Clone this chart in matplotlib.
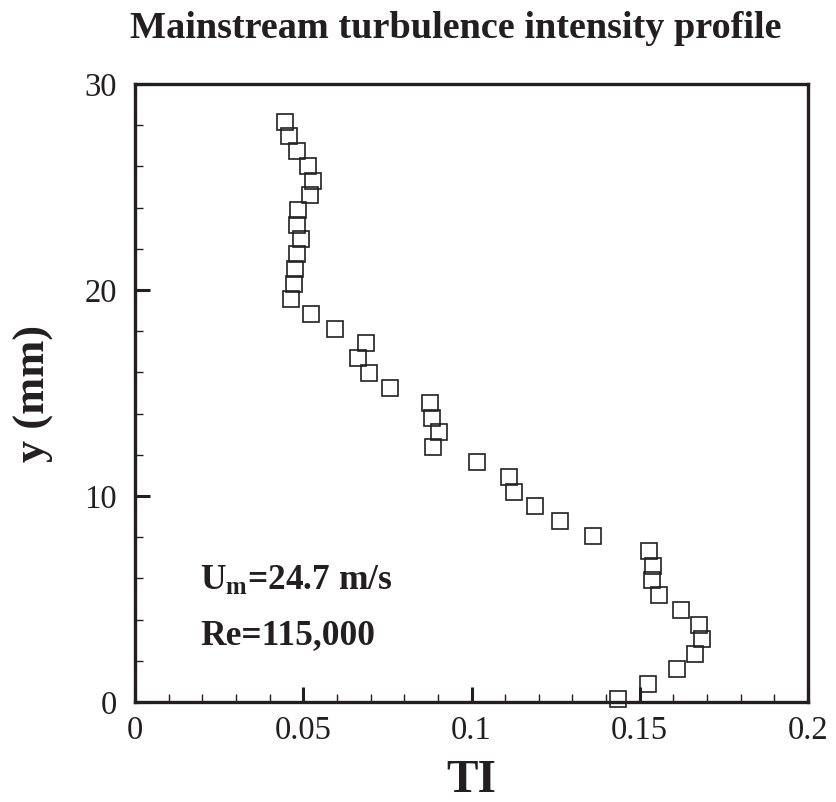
import numpy as np
import matplotlib.pyplot as plt
from matplotlib.ticker import MultipleLocator

# turbulence intensity profile
ti = [0.0446, 0.0458, 0.0481, 0.0514, 0.0529, 0.0520, 0.0484, 0.0481, 0.0493, 0.0481,
      0.0475, 0.0473, 0.0464, 0.0523, 0.0594, 0.0687, 0.0663, 0.0695, 0.0758, 0.0877,
      0.0883, 0.0903, 0.0886, 0.1016, 0.1111, 0.1126, 0.1189, 0.1263, 0.1361, 0.1528,
      0.1539, 0.1536, 0.1557, 0.1623, 0.1676, 0.1685, 0.1664, 0.1611, 0.1525, 0.1435]
y_mm = [28.16, 27.48, 26.75, 26.02, 25.29, 24.61, 23.88, 23.16, 22.48, 21.75,
        21.02, 20.29, 19.56, 18.83, 18.11, 17.43, 16.70, 15.97, 15.24, 14.51,
        13.79, 13.11, 12.38, 11.65, 10.92, 10.19, 9.51, 8.79, 8.06, 7.33,
        6.60, 5.92, 5.19, 4.47, 3.74, 3.06, 2.33, 1.60, 0.87, 0.15]
xtick_vals = [0, 0.05, 0.1, 0.15, 0.2]
xtick_text = ['0', '0.05', '0.1', '0.15', '0.2']

plt.rcParams['font.family'] = 'Liberation Serif'
plt.rcParams['mathtext.fontset'] = 'custom'
plt.rcParams['mathtext.bf'] = 'Liberation Serif:bold'
plt.rcParams['mathtext.rm'] = 'Liberation Serif'

ink = '#231f20'
fig = plt.figure(figsize=(8.36, 8.02), dpi=100)
ax = fig.add_axes([135/836, 100/802, 673/836, 618/802])

ax.plot(ti, y_mm, linestyle='none', marker='s', markersize=11.5,
        markerfacecolor='none', markeredgecolor=ink, markeredgewidth=1.2, clip_on=False)

ax.set_xlim(0, 0.2)
ax.set_ylim(0, 30)
ax.xaxis.set_minor_locator(MultipleLocator(0.01))
ax.yaxis.set_major_locator(MultipleLocator(10))
ax.yaxis.set_minor_locator(MultipleLocator(2))
ax.set_xticks(xtick_vals)
ax.set_xticklabels(xtick_text)
ax.tick_params(which='both', direction='in', top=False, right=False, colors=ink,
               labelsize=23.5)
ax.tick_params(axis='x', which='major', length=11, width=2.2, pad=10)
ax.tick_params(axis='y', which='major', length=11, width=2.2, pad=13)
ax.tick_params(which='minor', length=6, width=1)
for s in ax.spines.values():
    s.set_linewidth(2.4)
    s.set_color(ink)

ax.set_xlabel('TI', fontsize=34, fontweight='bold', color=ink, labelpad=10)
ax.set_ylabel('y (mm)', fontsize=32, fontweight='bold', color=ink, labelpad=22)

fig.text(456/836, 1 - 29/802, 'Mainstream turbulence intensity profile',
         fontsize=27.5, fontweight='bold', ha='center', va='center', color=ink)

ax.text(0.097, 0.195, r'$\mathbf{U_m}$=24.7 m/s', transform=ax.transAxes,
        fontsize=25.5, fontweight='bold', color=ink, va='center')
ax.text(0.097, 0.108, 'Re=115,000', transform=ax.transAxes,
        fontsize=25.5, fontweight='bold', color=ink, va='center')

fig.savefig('out.png', dpi=100)
